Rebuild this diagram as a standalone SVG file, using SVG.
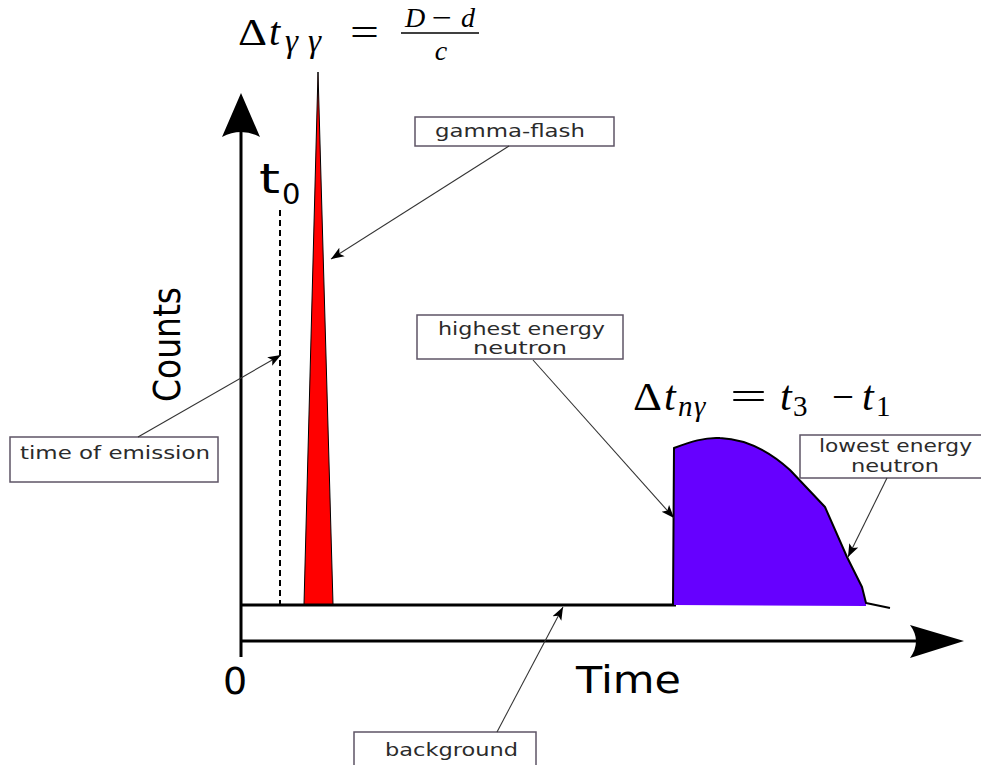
<svg xmlns="http://www.w3.org/2000/svg" width="981" height="765" viewBox="0 0 981 765">
<style>
.lbl{font-family:"DejaVu Sans","Liberation Sans",sans-serif;font-size:18px;fill:#2b2b2b}
.box{fill:#fff;stroke:#5e5466;stroke-width:1.5}
.ax{font-family:"DejaVu Sans","Liberation Sans",sans-serif;fill:#000}
.m{font-family:"Liberation Serif","DejaVu Serif",serif;fill:#000;font-weight:normal}
.i{font-style:italic}
.con{stroke:#333;stroke-width:1.1;fill:none;marker-end:url(#ah)}
</style>
<defs>
<marker id="ah" markerUnits="userSpaceOnUse" markerWidth="14" markerHeight="12" viewBox="0 0 14 12" refX="13" refY="6" orient="auto">
<path d="M0,1 L13,6 L0,11 L3,6 Z" fill="#000"/>
</marker>
</defs>
<rect width="981" height="765" fill="#fff"/>

<g id="axes">
<line x1="241" y1="657" x2="241" y2="128" stroke="#000" stroke-width="3"/>
<path d="M241,93 L260,137 Q241,127 222,137 Z" fill="#000"/>
<line x1="241" y1="641" x2="922" y2="641" stroke="#000" stroke-width="3"/>
<path d="M964,641 L910,658 Q922,641 910,625 Z" fill="#000"/>
<text class="ax" x="235" y="694" font-size="38" text-anchor="middle">0</text>
<text class="ax" x="576" y="693" font-size="37" textLength="105" lengthAdjust="spacingAndGlyphs">Time</text>
<text class="ax" font-size="32" textLength="115" lengthAdjust="spacingAndGlyphs" transform="translate(180,402) rotate(-90) scale(1,1.15)">Counts</text>
</g>

<g id="background-line">
<line x1="241" y1="605" x2="676" y2="605" stroke="#000" stroke-width="3"/>
</g>

<g id="t0">
<line x1="280" y1="210" x2="280" y2="604" stroke="#000" stroke-width="2" stroke-dasharray="6,4"/>
<text class="ax" x="259" y="193" font-size="40" textLength="21" lengthAdjust="spacingAndGlyphs">t</text>
<text class="ax" x="282" y="204" font-size="29">0</text>
</g>

<g id="gamma-peak">
<path d="M304,604 L318,72 L333,604 Z" fill="#ff0000" stroke="#000" stroke-width="1"/>
</g>

<g id="neutron-peak">
<path d="M673,605 L674,448 C690,442 705,437 720,438 C745,439 768,450 790,470 L825,507 L847,557 L862,587 L866,603 L866,606 Z" fill="#6600ff"/>
<path d="M673,605 L674,448 C690,442 705,437 720,438 C745,439 768,450 790,470 L825,507 L847,557 L862,587 L866,603 L890,608" fill="none" stroke="#000" stroke-width="2" stroke-linejoin="round"/>
</g>

<g id="formula-gg">
<text class="m" x="238" y="45" font-size="38" textLength="29" lengthAdjust="spacingAndGlyphs">Δ</text>
<text class="m i" x="269" y="45" font-size="40">t</text>
<text class="m i" x="285" y="52" font-size="33">γ</text>
<text class="m i" x="308" y="52" font-size="33">γ</text>
<text class="m" x="350" y="45" font-size="38" textLength="29" lengthAdjust="spacingAndGlyphs">=</text>
<text class="m i" x="405" y="27" font-size="28">D</text>
<text class="m" x="432" y="27" font-size="28" textLength="20" lengthAdjust="spacingAndGlyphs">−</text>
<text class="m i" x="461" y="27" font-size="28">d</text>
<line x1="401" y1="33" x2="479" y2="33" stroke="#000" stroke-width="1.5"/>
<text class="m i" x="441" y="60" font-size="28" text-anchor="middle">c</text>
</g>

<g id="formula-ng">
<text class="m" x="633" y="410" font-size="40" textLength="29" lengthAdjust="spacingAndGlyphs">Δ</text>
<text class="m i" x="664" y="410" font-size="42">t</text>
<text class="m i" x="678" y="416" font-size="29">n</text>
<text class="m i" x="694" y="416" font-size="29">γ</text>
<text class="m" x="730" y="410" font-size="40" textLength="37" lengthAdjust="spacingAndGlyphs">=</text>
<text class="m i" x="780" y="410" font-size="42">t</text>
<text class="m" x="793" y="416" font-size="29">3</text>
<text class="m" x="832" y="410" font-size="40" textLength="22" lengthAdjust="spacingAndGlyphs">−</text>
<text class="m i" x="862" y="410" font-size="42">t</text>
<text class="m" x="876" y="416" font-size="29">1</text>
</g>

<g id="gamma-flash">
<rect class="box" x="415" y="117" width="199" height="29"/>
<text class="lbl" x="435" y="137" textLength="150" lengthAdjust="spacingAndGlyphs">gamma-flash</text>
</g>

<g id="time-of-emission">
<rect class="box" x="10" y="437" width="208" height="45"/>
<text class="lbl" x="20" y="459" font-size="19" textLength="190" lengthAdjust="spacingAndGlyphs">time of emission</text>
</g>

<g id="highest-energy-neutron">
<rect class="box" x="417" y="315" width="206" height="44"/>
<text class="lbl" x="438" y="335" textLength="167" lengthAdjust="spacingAndGlyphs">highest energy</text>
<text class="lbl" x="473" y="354" textLength="94" lengthAdjust="spacingAndGlyphs">neutron</text>
</g>

<g id="lowest-energy-neutron">
<rect class="box" x="800" y="435" width="186" height="43"/>
<text class="lbl" x="819" y="452" textLength="153" lengthAdjust="spacingAndGlyphs">lowest energy</text>
<text class="lbl" x="851" y="472" textLength="88" lengthAdjust="spacingAndGlyphs">neutron</text>
</g>

<g id="background">
<rect class="box" x="354" y="732" width="182" height="40"/>
<text class="lbl" x="385" y="756" textLength="133" lengthAdjust="spacingAndGlyphs">background</text>
</g>

<g id="connectors">
<line class="con" x1="509" y1="146" x2="331" y2="259"/>
<line class="con" x1="138" y1="437" x2="281" y2="355"/>
<line class="con" x1="533" y1="360" x2="674" y2="518"/>
<line class="con" x1="887" y1="478" x2="848" y2="557"/>
<line class="con" x1="497" y1="732" x2="563" y2="607"/>
</g>
</svg>
